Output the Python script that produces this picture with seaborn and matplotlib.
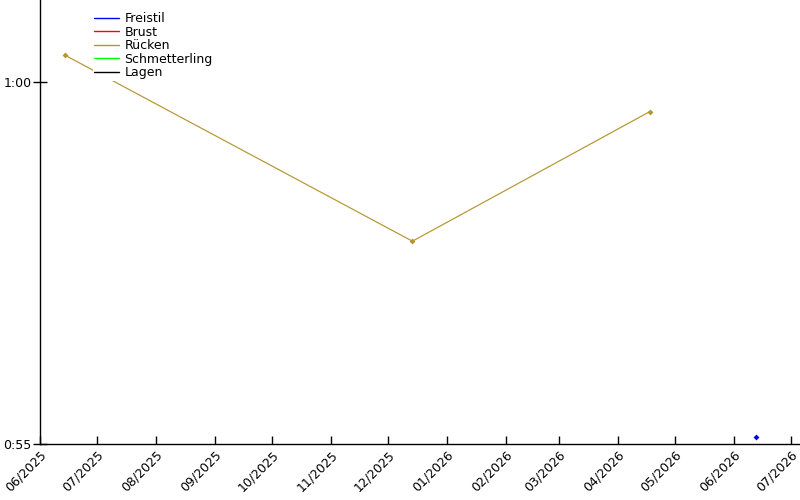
"""
Swim times per stroke — line chart with month ticks.
"""
import matplotlib
matplotlib.use("Agg")

import matplotlib.pyplot as plt
import matplotlib.dates as mdates
import matplotlib.ticker as mticker
import seaborn as sns
import pandas as pd

# ── Data ──────────────────────────────────────────────────────────────────────
STROKES = ["Freistil", "Brust", "Rücken", "Schmetterling", "Lagen"]
COLORS = {
    "Freistil": "#0000FF",
    "Brust": "#FF0000",
    "Rücken": "#B5952F",
    "Schmetterling": "#00FF00",
    "Lagen": "#000000",
}

freistil_dates = ["2026-06-13"]
freistil_secs = [55.10]

ruecken_dates = ["2025-06-14", "2025-12-14", "2026-04-18"]
ruecken_secs = [60.37, 57.80, 59.59]

SERIES = {
    "Freistil": (freistil_dates, freistil_secs),
    "Rücken": (ruecken_dates, ruecken_secs),
}

# ── Style ─────────────────────────────────────────────────────────────────────
sns.set_theme(style="white")
plt.rcParams.update({
    "font.family": ["DejaVu Sans"],
    "axes.spines.top": False,
    "axes.spines.right": False,
    "axes.edgecolor": "black",
    "axes.linewidth": 1.0,
    "text.color": "black",
})


def fmt_time(v, pos=None):
    m, s = divmod(int(round(v)), 60)
    return f"{m}:{s:02d}"


fig = plt.figure(figsize=(8, 5), dpi=100)
ax = fig.add_axes([0.05, 0.112, 0.95, 0.888])

for name in STROKES:
    if name in SERIES:
        dates, secs = SERIES[name]
        df = pd.DataFrame({"date": pd.to_datetime(dates), "secs": secs})
        sns.lineplot(data=df, x="date", y="secs", ax=ax, color=COLORS[name],
                     linewidth=0.85, marker="D", markersize=3,
                     markeredgewidth=0, label=name)
    else:
        ax.plot([], [], color=COLORS[name], linewidth=1.0, label=name)

ax.set_xlim(pd.Timestamp("2025-06-01"), pd.Timestamp("2026-07-06"))
ax.set_ylim(55, 61.13)
ax.set_xlabel("")
ax.set_ylabel("")

ax.xaxis.set_major_locator(mdates.MonthLocator())
ax.xaxis.set_major_formatter(mdates.DateFormatter("%m/%Y"))
ax.yaxis.set_major_locator(mticker.FixedLocator([55, 60]))
ax.yaxis.set_major_formatter(mticker.FuncFormatter(fmt_time))

ax.tick_params(axis="x", bottom=True, direction="in", length=6, width=1,
               labelsize=9, pad=3, colors="black")
ax.tick_params(axis="y", left=True, direction="inout", length=10, width=1,
               labelsize=9, pad=1, colors="black")
for lbl in ax.get_xticklabels():
    lbl.set_rotation(45)
    lbl.set_ha("right")
    lbl.set_rotation_mode("anchor")

# white box without border, so the line is hidden behind the legend
leg = ax.legend(loc="upper left", bbox_to_anchor=(0.056, 1.0), frameon=True,
                fontsize=9, handlelength=2.0, handletextpad=0.4,
                labelspacing=0.05, borderaxespad=0.85, borderpad=0.1,
                facecolor="white", edgecolor="none", framealpha=1.0,
                fancybox=False)
for line in leg.get_lines():
    line.set_marker("")
    line.set_linewidth(1.0)
for txt in leg.get_texts():
    txt.set_color("black")

fig.savefig("out.png", dpi=100)
